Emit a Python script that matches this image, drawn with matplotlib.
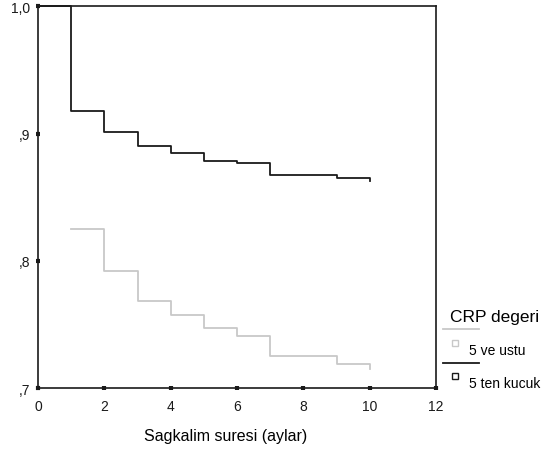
import matplotlib
matplotlib.use("Agg")
import matplotlib.pyplot as plt
from matplotlib.lines import Line2D

plt.rcParams['font.family'] = ['Liberation Sans', 'DejaVu Sans']

# Kaplan-Meier survival estimates by CRP group (time in months)
time_low = [0, 1, 2, 3, 4, 5, 6, 7, 9, 10, 10]
surv_low = [1.0, 0.918, 0.901, 0.8905, 0.8848, 0.8782, 0.8769, 0.8677, 0.8649, 0.8649, 0.8628]

time_high = [1, 2, 3, 4, 5, 6, 7, 9, 10, 10]
surv_high = [0.825, 0.7918, 0.7685, 0.7577, 0.7471, 0.7412, 0.7251, 0.7193, 0.7193, 0.715]

x_ticks = [0, 2, 4, 6, 8, 10, 12]
y_ticks = [0.7, 0.8, 0.9, 1.0]
y_tick_labels = [",7", ",8", ",9", "1,0"]

legend_title = "CRP degeri"
legend_labels = ["5 ve ustu", "5 ten kucuk"]
x_label = "Sagkalim suresi (aylar)"

gray = "#c8c8c8"
black = "#1a1a1a"

W, H = 549, 464
fig = plt.figure(figsize=(W / 100, H / 100), dpi=100)
ax = fig.add_axes([38 / W, 1 - 389.3 / H, (436 - 38) / W, (389.3 - 7.3) / H])

ax.step(time_high, surv_high, where="post", color=gray, lw=1.3, clip_on=False)
ax.step(time_low, surv_low, where="post", color=black, lw=1.3, clip_on=False)

ax.set_xlim(0, 12)
ax.set_ylim(0.7, 1.0)
ax.set_xticks(x_ticks)
ax.set_xticklabels([str(t) for t in x_ticks])
ax.set_yticks(y_ticks)
ax.set_yticklabels(y_tick_labels)
for s in ax.spines.values():
    s.set_color(black)
    s.set_linewidth(1.2)
ax.tick_params(direction="inout", length=3.5, width=3, colors=black,
               labelsize=10)
ax.tick_params(axis="x", pad=6)
ax.tick_params(axis="y", pad=4)

fig.text(226 / W, 1 - 437 / H, x_label, ha="center", va="center", fontsize=11.5)

# Legend drawn by hand at the right margin
fig.text(450 / W, 1 - 318 / H, legend_title, ha="left", va="center", fontsize=12.5)
fig.add_artist(Line2D([443 / W, 479 / W], [1 - 330 / H, 1 - 330 / H], color=gray, lw=1.3))
fig.add_artist(Line2D([455 / W], [1 - 344 / H], marker="s", ms=4, mfc="white",
                      mec=gray, mew=1, ls="none"))
fig.text(469 / W, 1 - 351 / H, legend_labels[0], ha="left", va="center", fontsize=10)
fig.add_artist(Line2D([443 / W, 479 / W], [1 - 364 / H, 1 - 364 / H], color=black, lw=1.3))
fig.add_artist(Line2D([455 / W], [1 - 377 / H], marker="s", ms=4, mfc="white",
                      mec=black, mew=1, ls="none"))
fig.text(469 / W, 1 - 384 / H, legend_labels[1], ha="left", va="center", fontsize=10)

fig.savefig("out.png", dpi=100)
